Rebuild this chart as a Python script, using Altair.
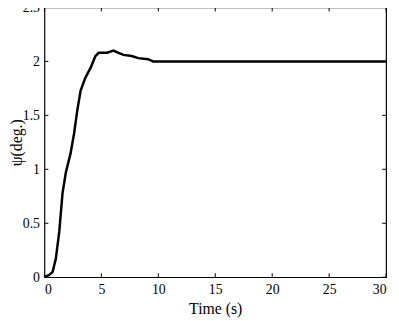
import altair as alt
import pandas as pd

t = [0, 0.15, 0.4, 0.72, 1.0, 1.3, 1.59, 1.88, 2.3, 2.6, 2.89, 3.18, 3.6, 4.05, 4.48, 4.77,
     5.1, 5.5, 6.07, 6.5, 6.94, 7.66, 8.24, 9.1, 9.54, 10.0, 15, 20, 25, 30]
psi = [0, 0.01, 0.02, 0.05, 0.17, 0.42, 0.78, 0.97, 1.15, 1.33, 1.55, 1.73, 1.85, 1.94, 2.05, 2.08,
       2.08, 2.08, 2.10, 2.08, 2.06, 2.05, 2.03, 2.02, 2.0, 2.0, 2.0, 2.0, 2.0, 2.0]
x_ticks = [0, 5, 10, 15, 20, 25, 30]
y_ticks = [0, 0.5, 1, 1.5, 2, 2.5]

W, H = 347, 274
FONT = "Liberation Serif"

df = pd.DataFrame({"t": t, "psi": psi})
dx = pd.DataFrame({"v": x_ticks})
dy = pd.DataFrame({"v": y_ticks})

xs = alt.Scale(domain=[0, 30], nice=False, zero=False)
ys = alt.Scale(domain=[0, 2.5], nice=False, zero=False)

ax = dict(tickSize=0, domain=False, grid=False,
          labelFont=FONT, labelFontSize=14, labelColor="black",
          titleFont=FONT, titleFontSize=16, titleFontWeight="normal", titleColor="black")

line = alt.Chart(df).mark_line(color="black", strokeWidth=2.5).encode(
    x=alt.X("t:Q", scale=xs, title="Time (s)",
            axis=alt.Axis(values=x_ticks, labelPadding=6, titlePadding=4, **ax)),
    y=alt.Y("psi:Q", scale=ys, title="ψ(deg.)",
            axis=alt.Axis(values=y_ticks, labelPadding=5, labelExpr="datum.value + ''",
                          titleX=-20, titleY=H / 2, titleAngle=270, titleBaseline="bottom",
                          titleAlign="center", **ax)),
)

rk = dict(color="black", strokeWidth=1)
bx = alt.Chart(dx).mark_rule(**rk).encode(x=alt.X("v:Q", scale=xs), y=alt.value(H), y2=alt.value(H - 4))
tx = alt.Chart(dx).mark_rule(**rk).encode(x=alt.X("v:Q", scale=xs), y=alt.value(0), y2=alt.value(4))
ly = alt.Chart(dy).mark_rule(**rk).encode(y=alt.Y("v:Q", scale=ys), x=alt.value(0), x2=alt.value(4))
ry = alt.Chart(dy).mark_rule(**rk).encode(y=alt.Y("v:Q", scale=ys), x=alt.value(W), x2=alt.value(W - 4))

chart = alt.layer(line, bx, tx, ly, ry).properties(
    width=W, height=H,
    autosize=alt.AutoSizeParams(type="none"),
    padding={"left": 37, "top": -3, "right": 5, "bottom": 40},
).configure(background="white", font=FONT).configure_view(
    stroke="black", strokeWidth=1.2
).configure_axis(**ax)

chart.save("out.html", embed_options={"renderer": "svg", "actions": False})
